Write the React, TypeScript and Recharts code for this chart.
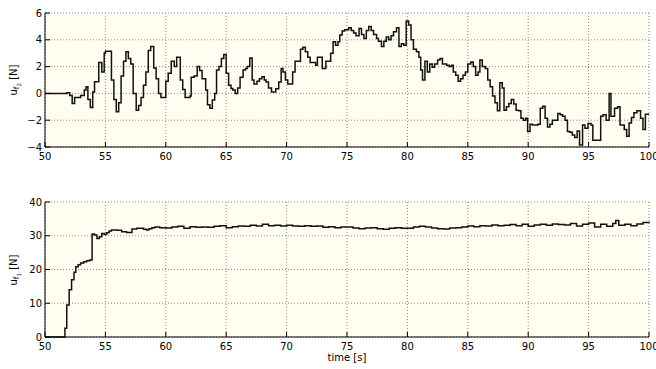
import { LineChart, Line, XAxis, YAxis, CartesianGrid } from 'recharts'

// u_f2: step changes (time [s], force [N])
const topTime = [
  50, 51.8, 52.05, 52.25, 52.45, 52.95, 53.25, 53.4, 53.55, 53.75,
  53.95, 54.1, 54.45, 54.7, 54.9, 55.0, 55.5, 55.7, 55.9, 56.1,
  56.3, 56.5, 56.7, 56.9, 57.1, 57.3, 57.55, 57.75, 57.95, 58.15,
  58.35, 58.55, 58.75, 59.0, 59.2, 59.4, 59.6, 60.0, 60.2, 60.45,
  60.7, 60.9, 61.2, 61.4, 61.6, 62.0, 62.1, 62.35, 62.6, 62.8,
  63.0, 63.3, 63.45, 63.65, 63.85, 64.05, 64.2, 64.4, 64.6, 64.8,
  65.0, 65.2, 65.4, 65.55, 65.75, 65.95, 66.15, 66.4, 66.6, 66.75,
  66.95, 67.15, 67.3, 67.55, 67.75, 67.95, 68.15, 68.3, 68.5, 68.75,
  69.1, 69.35, 69.55, 69.7, 69.9, 70.1, 70.5, 70.7, 71.15, 71.35,
  71.55, 71.75, 71.95, 72.4, 72.55, 72.95, 73.25, 73.65, 73.85, 74.05,
  74.25, 74.4, 74.6, 74.8, 75.15, 75.35, 75.55, 75.75, 76.0, 76.2,
  76.4, 76.6, 76.8, 77.0, 77.2, 77.45, 77.6, 77.85, 78.05, 78.25,
  78.45, 78.65, 78.85, 79.1, 79.3, 79.5, 79.7, 79.9, 80.1, 80.3,
  80.5, 80.75, 80.95, 81.1, 81.25, 81.45, 81.65, 81.85, 82.05, 82.25,
  82.5, 82.7, 82.9, 83.25, 83.45, 83.65, 83.8, 84.0, 84.2, 84.4,
  84.6, 84.8, 85.0, 85.25, 85.45, 85.65, 85.85, 86.0, 86.2, 86.45,
  86.65, 86.85, 87.05, 87.25, 87.45, 87.65, 87.85, 88.0, 88.2, 88.4,
  88.6, 88.8, 89.0, 89.2, 89.4, 89.6, 89.8, 89.95, 90.15, 90.35,
  90.6, 90.8, 91.0, 91.2, 91.4, 91.6, 91.8, 92.0, 92.25, 92.45,
  92.65, 92.85, 93.05, 93.25, 93.45, 93.65, 93.85, 94.05, 94.25, 94.5,
  94.7, 94.95, 95.2, 95.35, 96.0, 96.2, 96.45, 96.7, 96.85, 97.15,
  97.4, 97.6, 97.95, 98.15, 98.35, 98.55, 98.75, 99.0, 99.3, 99.5,
  99.7, 100,
]
const topForce = [
  0, 0.05, -0.15, -0.75, -0.3, -0.15, 0.25, 0.5, -0.45, -1.05,
  0.1, 0.87, 2.3, 1.6, 3.0, 3.15, 1.0, -0.45, -1.37, -0.7,
  1.3, 2.4, 3.1, 2.6, 2.2, 0.0, -1.25, -0.9, -0.3, 0.6,
  1.6, 3.2, 3.5, 1.9, 1.1, 0.0, -0.3, 0.9, 1.5, 2.4,
  2.0, 2.7, 1.0, 0.3, -0.3, -0.2, 1.2, 1.3, 2.0, 1.7,
  1.1, 0.25, -0.85, -1.1, -0.5, 0.0, 1.75, 2.0, 2.6, 2.9,
  1.5, 0.6, 0.37, 0.25, 0.0, 0.4, 1.2, 1.75, 1.85, 2.0,
  2.65, 1.0, 0.7, 0.9, 1.1, 1.25, 1.0, 0.85, 0.4, 0.1,
  0.35, 0.85, 1.85, 1.6, 1.0, 0.7, 1.6, 2.4, 3.3, 3.45,
  3.1, 2.7, 2.3, 2.1, 2.7, 1.85, 2.4, 3.0, 3.85, 3.6,
  3.85, 4.35, 4.65, 4.75, 4.9, 4.7, 4.5, 4.3, 4.85, 4.4,
  4.1, 4.7, 5.0, 4.7, 4.4, 4.1, 3.9, 3.5, 3.9, 4.2,
  4.0, 4.3, 4.6, 4.9, 3.5, 3.7, 3.6, 5.4, 5.1, 4.0,
  3.3, 3.1, 2.7, 1.75, 1.0, 2.4, 1.6, 2.2, 1.95, 2.2,
  2.5, 2.6, 2.2, 2.1, 2.0, 2.1, 1.6, 1.35, 0.9, 1.1,
  1.35, 1.6, 2.2, 2.35, 2.0, 1.35, 1.6, 2.5, 2.0, 1.85,
  1.0, 0.5, -0.2, -0.7, -1.3, 0.8, 0.4, -1.25, -1.0, -0.75,
  -0.45, -0.8, -1.25, -1.3, -1.85, -2.0, -1.85, -2.85, -2.3, -2.35,
  -2.35, -2.3, -1.1, -0.95, -1.85, -2.5, -2.3, -2.0, -2.0, -1.5,
  -1.6, -1.7, -2.0, -2.85, -2.9, -3.1, -3.3, -2.8, -3.85, -2.35,
  -2.6, -2.25, -2.35, -3.5, -1.7, -1.6, -2.0, 0.0, -1.7, -1.1,
  -1.0, -2.35, -2.7, -3.2, -2.2, -1.8, -1.45, -1.3, -1.85, -2.7,
  -1.55, -1.55,
]

// u_f1: lower panel
const bottomTime = [
  50, 51.65, 51.8, 52.0, 52.2, 52.4, 52.55, 52.75, 52.95, 53.2,
  53.45, 53.7, 53.9, 54.1, 54.3, 54.5, 54.7, 54.9, 55.1, 55.3,
  55.5, 55.95, 56.35, 56.75, 57.2, 57.6, 58.15, 58.4, 58.6, 58.85,
  59.1, 59.5, 60, 60.5, 61, 61.5, 62, 62.5, 63, 63.5,
  64, 64.5, 65, 65.5, 66, 66.5, 67, 67.5, 68, 68.5,
  69, 69.5, 70, 70.5, 71, 71.5, 72, 72.5, 73, 73.5,
  74, 74.5, 75, 75.5, 76, 76.5, 77, 77.5, 78, 78.5,
  79, 79.5, 80, 80.5, 81, 81.5, 82, 82.5, 83, 83.5,
  84, 84.5, 85, 85.5, 86, 86.5, 87, 87.5, 88, 88.5,
  89, 89.5, 90, 90.5, 91, 91.5, 92, 92.5, 93, 93.5,
  94, 94.5, 95, 95.5, 96, 96.5, 97, 97.25, 97.5, 98,
  98.5, 99, 99.5, 100,
]
const bottomForce = [
  0, 2.6, 9.5, 14, 17, 19.2, 20.8, 21.4, 21.9, 22.3,
  22.6, 22.8, 30.5, 30.2, 29.2, 29.7, 30.7, 30.4, 30.9, 31.4,
  31.7, 31.6, 31.2, 31.0, 32.0, 32.2, 31.9, 31.7, 32.1, 32.4,
  32.6, 32.4, 32.3, 32.6, 32.8, 32.2, 32.7, 32.5, 32.6, 32.5,
  32.8, 33.0, 32.4, 32.7, 32.9, 32.8, 33.1, 32.9, 33.4, 33.0,
  33.1, 32.9, 33.1, 32.9, 32.8, 33.0, 32.8, 32.9, 32.5, 32.7,
  32.4, 32.6, 32.6, 32.3, 32.1, 32.3, 32.4, 32.1, 31.9, 32.2,
  32.4, 32.2, 32.2, 32.6, 32.8, 32.6, 32.3, 32.1, 32.0, 32.3,
  32.4, 32.6, 32.9, 32.7, 33.0, 32.9, 33.2, 33.0, 33.1, 33.3,
  33.0, 33.4, 32.8, 33.2, 33.4, 33.1, 33.5, 33.3, 33.2, 33.6,
  32.9, 33.4, 33.8, 32.6, 33.4, 32.8, 33.6, 34.5, 33.1, 33.4,
  33.0, 33.5, 33.9, 33.7,
]

const timeTicks = [50, 55, 60, 65, 70, 75, 80, 85, 90, 95, 100]
const topTicks = [-4, -2, 0, 2, 4, 6]
const bottomTicks = [0, 10, 20, 30, 40]

const FONT = '"DejaVu Sans", Verdana, sans-serif'
const BG = '#fffef0'
const INK = '#000'

const topData = topTime.map((t, i) => ({ t, v: topForce[i] }))
const bottomData = bottomTime.map((t, i) => ({ t, v: bottomForce[i] }))

const fmt = (v: number) => (v < 0 ? `\u2212${Math.abs(v)}` : String(v))

// matlab style: ticks point inward, labels outside
function BottomTick(props: any) {
  const { x, y, payload } = props
  return (
    <g>
      <line x1={x} x2={x} y1={y} y2={y - 5} stroke={INK} />
      <text x={x} y={y + 12.5} textAnchor="middle" fontSize={10} fontFamily={FONT} fill={INK}>
        {payload.value}
      </text>
    </g>
  )
}

function TopTick(props: any) {
  const { x, y } = props
  return <line x1={x} x2={x} y1={y} y2={y + 5} stroke={INK} />
}

function LeftTick(props: any) {
  const { x, y, payload } = props
  return (
    <g>
      <line x1={x} x2={x + 5} y1={y} y2={y} stroke={INK} />
      <text x={x - 3} y={y + 3.5} textAnchor="end" fontSize={10} fontFamily={FONT} fill={INK}>
        {fmt(payload.value)}
      </text>
    </g>
  )
}

function RightTick(props: any) {
  const { x, y } = props
  return <line x1={x} x2={x - 5} y1={y} y2={y} stroke={INK} />
}

interface PanelProps {
  data: { t: number; v: number }[]
  yDomain: [number, number]
  yTicks: number[]
  height: number
  top: number
  axisHeight: number
}

function Panel({ data, yDomain, yTicks, height, top, axisHeight }: PanelProps) {
  return (
    <LineChart width={656} height={height} data={data} margin={{ top, right: 7, bottom: 0, left: 0 }}>
      <CartesianGrid fill={BG} fillOpacity={1} stroke="#8a8a8a" strokeDasharray="1 2" />
      <XAxis
        dataKey="t"
        type="number"
        domain={[50, 100]}
        ticks={timeTicks}
        interval={0}
        tickSize={0}
        tickMargin={0}
        tickLine={false}
        tick={<BottomTick />}
        axisLine={{ stroke: INK }}
        height={axisHeight}
      />
      <XAxis
        xAxisId="top"
        orientation="top"
        type="number"
        domain={[50, 100]}
        ticks={timeTicks}
        interval={0}
        tickSize={0}
        tickMargin={0}
        tickLine={false}
        tick={<TopTick />}
        axisLine={{ stroke: INK }}
        height={0}
      />
      <YAxis
        type="number"
        domain={yDomain}
        ticks={yTicks}
        interval={0}
        tickSize={0}
        tickMargin={0}
        tickLine={false}
        tick={<LeftTick />}
        axisLine={{ stroke: INK }}
        width={45}
      />
      <YAxis
        yAxisId="right"
        orientation="right"
        type="number"
        domain={yDomain}
        ticks={yTicks}
        interval={0}
        tickSize={0}
        tickMargin={0}
        tickLine={false}
        tick={<RightTick />}
        axisLine={{ stroke: INK }}
        width={0}
      />
      <Line
        dataKey="v"
        type="stepAfter"
        stroke="#111"
        strokeWidth={1.5}
        dot={false}
        isAnimationActive={false}
      />
    </LineChart>
  )
}

function YLabel({ x, y, sub }: { x: number; y: number; sub: string }) {
  return (
    <text
      transform={`translate(${x},${y}) rotate(-90)`}
      textAnchor="middle"
      fontSize={10}
      fontFamily={FONT}
      fill={INK}
    >
      <tspan>u</tspan>
      <tspan fontSize={7.5} dy={2.5}>f</tspan>
      <tspan fontSize={5.5} dy={2}>{sub}</tspan>
      <tspan fontSize={10} dy={-4.5}> [N]</tspan>
    </text>
  )
}

export default function App() {
  return (
    <div style={{ position: 'absolute', left: 0, top: 0, width: 656, height: 369, background: '#fff', overflow: 'hidden' }}>
      <div style={{ position: 'absolute', left: 0, top: 0 }}>
        <Panel data={topData} yDomain={[-4, 6]} yTicks={topTicks} height={172} top={13} axisHeight={25} />
      </div>
      <div style={{ position: 'absolute', left: 0, top: 190 }}>
        <Panel data={bottomData} yDomain={[0, 40]} yTicks={bottomTicks} height={179} top={12} axisHeight={32} />
      </div>
      <svg width={656} height={369} style={{ position: 'absolute', left: 0, top: 0, pointerEvents: 'none' }}>
        <YLabel x={16.5} y={80} sub="2" />
        <YLabel x={16.5} y={270} sub="1" />
        <text x={347} y={361} textAnchor="middle" fontSize={10} fontFamily={FONT} fill={INK}>
          time [s]
        </text>
      </svg>
    </div>
  )
}
